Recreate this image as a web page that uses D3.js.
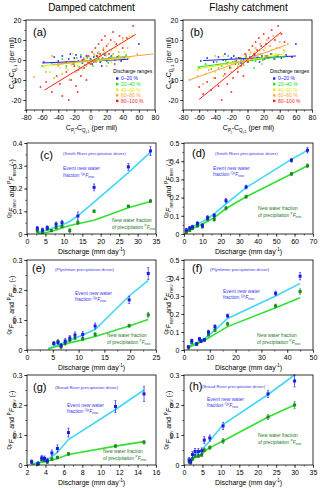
<!DOCTYPE html>
<html>
<head>
<meta charset="utf-8">
<script src="https://d3js.org/d3.v7.min.js"></script>
<style>
body { margin: 0; background: #fff; }
svg text { font-family: "Liberation Sans", Arial, sans-serif; }
</style>
</head>
<body>
<div id="container"></div>
<script>
// ---------- scatter data: [Cp - Cq(j-1), Cq(j) - Cq(j-1)] per discharge range ----------
const rangeNames = ['0\u201320 %', '20\u201340 %', '40\u201360 %', '60\u201380 %', '80\u2013100 %'];
const rangeColors = ['#2020ff', '#22dd22', '#e8e800', '#ffa040', '#ff2020'];

const dampedQ0 = [[-58,-1],[-45,1.5],[-40,-0.5],[-35,2],[-30,-1],[-27,0.5],[-22,-2],[-20,1],[-18,2.5],[-15,-0.5],[-12,1.5],[-10,-1.5],[-8,0.5],[-5,2],[-3,-1],[0,0.5],[2,-2],[4,1.5],[6,-0.5],[8,2],[10,0.5],[12,-1],[15,1],[18,2.5],[20,-0.5],[23,1],[26,2],[30,0],[33,1.5],[38,-0.5],[42,1],[46,0.5],[60,8],[-25,3],[14,-3]];
const dampedQ20 = [[-60,-3],[-48,-1.5],[-40,-2.5],[-35,0.5],[-30,-3],[-25,-1],[-20,-2],[-17,1],[-14,-3.5],[-10,-0.5],[-7,-2.5],[-4,1],[-2,-1.5],[1,0],[3,-3],[5,2],[7,-1],[10,1],[13,-0.5],[16,3],[19,0.5],[22,-1.5],[25,1.5],[28,3],[31,0],[35,2],[40,1],[44,2.5],[-12,2.5],[9,3.5]];
const dampedQ40 = [[-58,-3.5],[-50,-6],[-45,-2],[-38,-4],[-32,-1],[-28,-5],[-24,-2.5],[-20,0],[-16,-3],[-13,-1],[-10,-4.5],[-7,0.5],[-4,-2],[-1,1.5],[2,-0.5],[5,2.5],[8,0],[11,3],[14,1],[17,4],[20,2],[24,5],[28,3],[32,6],[36,2],[42,4],[48,12],[40,10],[26,-1],[-22,3]];
const dampedQ60 = [[-70,-8.5],[-55,-6],[-45,-9],[-40,-3],[-35,-7],[-30,-4],[-26,-10],[-22,-2],[-18,-6],[-15,-1],[-12,-4],[-8,1],[-5,-3],[-2,2],[1,-1],[4,3],[7,0],[10,4],[13,2],[16,6],[19,3],[22,8],[26,5],[30,9],[35,4],[40,11],[46,6],[52,12],[-48,2],[20,-3],[58,3]];
const dampedQ80 = [[-62,-13.5],[-55,-11],[-48,-16],[-42,-8],[-38,-12],[-35,-18],[-30,-6],[-27,-20],[-24,-10],[-20,-3],[-18,-13],[-15,-5],[-12,-8],[-10,0],[-8,-4],[-5,-10],[-3,2],[0,-2],[2,4],[4,-1],[6,6],[8,2],[10,8],[12,3],[14,10],[16,5],[18,12],[20,7],[23,3],[25,10],[28,14],[32,8],[36,12],[40,6],[45,11],[53,17],[-16,-16],[30,-2]];

const flashyQ0 = [[-58,-0.5],[-50,1],[-42,-1],[-36,1.5],[-30,0],[-25,-1.5],[-20,1],[-17,2],[-14,-0.5],[-11,1],[-8,-1.5],[-5,0.5],[-2,2],[1,-0.5],[3,1.5],[6,0],[9,2.5],[12,1],[15,-1],[18,2],[21,0.5],[25,1.5],[29,3],[33,0.5],[37,2],[42,1],[48,2.5],[55,1.5],[60,8],[-28,3]];
const flashyQ20 = [[-60,-4],[-52,-2],[-45,-4.5],[-38,-1],[-32,-3],[-27,-0.5],[-22,-3.5],[-18,-1],[-14,1],[-11,-2],[-8,0],[-5,-2.5],[-2,1.5],[1,-1],[4,0.5],[7,2],[10,-0.5],[13,1.5],[16,3],[19,0],[22,2],[26,1],[30,3],[34,0.5],[38,2.5],[45,1.5],[-24,2],[8,-4]];
const flashyQ40 = [[-62,-5],[-52,-7],[-46,-3],[-40,-6],[-34,-2],[-29,-5],[-24,-1],[-20,-4],[-16,0],[-12,-3],[-9,1],[-6,-1.5],[-3,2],[0,0],[3,3],[6,1],[9,4],[12,2],[15,5],[18,3],[22,6],[26,2],[30,5],[35,3],[40,6],[46,4],[38,12],[-30,2]];
const flashyQ60 = [[-72,-10],[-62,-8],[-55,-12],[-48,-5],[-42,-9],[-36,-4],[-30,-8],[-25,-2],[-20,-6],[-16,-1],[-12,-4],[-8,1],[-5,-2],[-2,3],[1,0],[4,4],[7,2],[10,6],[13,3],[16,8],[20,5],[24,10],[28,7],[32,12],[36,6],[40,9],[45,5],[50,8],[-40,2],[18,-2]];
const flashyQ80 = [[-60,-13.5],[-55,-17],[-50,-11],[-45,-15],[-40,-9],[-36,-13],[-32,-20],[-28,-7],[-25,-12],[-22,-4],[-18,-9],[-15,-2],[-12,-6],[-10,1],[-8,-3],[-5,-8],[-3,3],[0,-1],[2,5],[4,1],[6,7],[8,3],[10,9],[12,5],[14,11],[17,7],[20,13],[23,8],[26,11],[30,15],[34,10],[38,17],[42,13],[46,9],[-20,-16],[24,2]];

// regression lines [x1,y1,x2,y2] per range
const dampedFits = [[-60,-1.5,45,0.3],[-48,-2.5,45,1.8],[-58,-2.8,50,1.2],[-45,-2.2,78,3],[-57,-15,56,12.8]];
const flashyFits = [[-55,-0.3,60,2],[-62,-3.5,48,2],[-62,-4.5,45,3],[-72,-10,48,7.5],[-60,-19.7,42,14]];

// ---------- new water fraction panels ----------
const smithDampedQ = [2.8, 4.2, 5.5, 6.6, 7.9, 9.5, 11.6, 13.8, 18.2, 27.5, 33.5];
const smithDampedEvent = [0.025, 0.018, 0.028, null, 0.043, 0.05, null, 0.079, 0.205, 0.295, 0.365];
const smithDampedEventErr = [0.008, 0.008, 0.008, 0, 0.01, 0.01, 0, 0.018, 0.015, 0.015, 0.02];
const smithDampedPrecip = [0.013, 0.007, 0.022, 0.015, 0.028, 0.033, 0.015, 0.05, 0.1, 0.122, 0.145];
const smithDampedPrecipErr = [0.005, 0.005, 0.005, 0.005, 0.006, 0.006, 0.01, 0.008, 0.006, 0.005, 0.007];
const smithDampedEventFit = [0.006, 0.012, 0.018, 0.024, 0.03, 0.04, 0.055, 0.08, 0.14, 0.27, 0.36];
const smithDampedPrecipFit = [0.003, 0.005, 0.008, 0.012, 0.018, 0.027, 0.037, 0.045, 0.06, 0.115, 0.143];

const smithFlashyQ = [1.3, 3.1, 4.6, 7.3, 10, 12.8, 16.4, 22.8, 33.7, 58.3, 67];
const smithFlashyEvent = [0.022, 0.033, 0.04, 0.058, 0.047, 0.09, 0.102, 0.183, 0.258, 0.405, 0.46];
const smithFlashyEventErr = [0.008, 0.008, 0.008, 0.01, 0.01, 0.012, 0.01, 0.012, 0.01, 0.01, 0.015];
const smithFlashyPrecip = [0.01, 0.02, 0.03, 0.045, 0.04, 0.082, 0.08, 0.142, 0.205, 0.33, 0.375];
const smithFlashyPrecipErr = [0.006, 0.006, 0.006, 0.008, 0.008, 0.01, 0.01, 0.01, 0.008, 0.008, 0.01];
const smithFlashyEventFit = [0.015, 0.028, 0.038, 0.055, 0.068, 0.085, 0.11, 0.165, 0.255, 0.41, 0.46];
const smithFlashyPrecipFit = [0.01, 0.02, 0.03, 0.042, 0.055, 0.07, 0.09, 0.14, 0.205, 0.33, 0.375];

const plynDampedQ = [4.1, 5.2, 6.0, 6.6, 7.4, 8.3, 9.3, 10.8, 13.2, 19.8, 23.5];
const plynDampedEvent = [null, 0.022, 0.025, 0.015, 0.03, 0.04, 0.05, 0.052, 0.08, 0.167, 0.255];
const plynDampedEventErr = [0, 0.006, 0.006, 0.006, 0.008, 0.008, 0.01, 0.01, 0.01, 0.012, 0.02];
const plynDampedPrecip = [null, 0.022, 0.028, 0.01, 0.022, 0.033, 0.04, 0.037, 0.052, 0.081, 0.117];
const plynDampedPrecipErr = [0, 0.005, 0.007, 0.006, 0.006, 0.006, 0.006, 0.006, 0.006, 0.005, 0.008];
const plynDampedEventFit = [0.004, 0.012, 0.017, 0.021, 0.026, 0.032, 0.039, 0.05, 0.068, 0.18, 0.232];
const plynDampedPrecipFit = [0.003, 0.009, 0.013, 0.016, 0.02, 0.024, 0.028, 0.034, 0.045, 0.08, 0.102];

const plynFlashyQ = [1.7, 3, 4.9, 6, 6.6, 7.9, 9.5, 12, 16.9, 35.5, 45];
const plynFlashyEvent = [0.018, 0.052, 0.035, 0.062, 0.05, 0.057, 0.1, 0.13, 0.19, 0.315, 0.41];
const plynFlashyEventErr = [0.006, 0.008, 0.006, 0.008, 0.006, 0.006, 0.01, 0.01, 0.01, 0.012, 0.02];
const plynFlashyPrecip = [0.012, 0.04, 0.03, 0.06, 0.048, 0.055, 0.085, 0.11, 0.145, 0.245, 0.325];
const plynFlashyPrecipErr = [0.005, 0.006, 0.005, 0.006, 0.005, 0.005, 0.008, 0.008, 0.01, 0.01, 0.015];
const plynFlashyEventFit = [0.015, 0.028, 0.04, 0.048, 0.053, 0.063, 0.08, 0.11, 0.175, 0.3, 0.37];
const plynFlashyPrecipFit = [0.012, 0.022, 0.033, 0.04, 0.045, 0.054, 0.067, 0.088, 0.13, 0.235, 0.29];

const broadDampedQ = [2.5, 3.2, 3.6, 3.9, 4.2, 4.7, 5.3, 6.5, 11.6, 14.7];
const broadDampedEvent = [0.011, 0.005, 0.024, 0.022, 0.015, 0.04, 0.055, 0.108, 0.195, 0.237];
const broadDampedEventErr = [0.006, 0.006, 0.008, 0.008, 0.008, 0.01, 0.012, 0.015, 0.02, 0.025];
const broadDampedPrecip = [0.01, 0.004, 0.018, 0.015, 0.01, 0.02, 0.025, 0.037, 0.063, 0.076];
const broadDampedPrecipErr = [0.005, 0.004, 0.005, 0.005, 0.005, 0.005, 0.005, 0.005, 0.005, 0.006];
const broadDampedEventFit = [0.003, 0.008, 0.012, 0.015, 0.019, 0.028, 0.042, 0.085, 0.185, 0.25];
const broadDampedPrecipFit = [0.003, 0.006, 0.009, 0.011, 0.013, 0.017, 0.022, 0.035, 0.063, 0.078];

const broadFlashyQ = [1.4, 1.8, 2.3, 3, 3.9, 4.8, 5.5, 7, 10.6, 22.8, 30];
const broadFlashyEvent = [0.017, 0.012, 0.035, 0.045, 0.045, 0.047, 0.083, 0.09, 0.13, 0.237, 0.28];
const broadFlashyEventErr = [0.008, 0.008, 0.01, 0.01, 0.01, 0.01, 0.012, 0.01, 0.012, 0.012, 0.02];
const broadFlashyPrecip = [0.01, 0.008, 0.02, 0.03, 0.03, 0.033, 0.05, 0.058, 0.08, 0.16, 0.2];
const broadFlashyPrecipErr = [0.005, 0.005, 0.005, 0.005, 0.005, 0.005, 0.006, 0.006, 0.008, 0.008, 0.012];
const broadFlashyEventFit = [0.012, 0.018, 0.025, 0.035, 0.042, 0.05, 0.06, 0.08, 0.135, 0.235, 0.3];
const broadFlashyPrecipFit = [0.008, 0.012, 0.018, 0.025, 0.03, 0.035, 0.045, 0.058, 0.08, 0.16, 0.2];

// ---------- layout ----------
const W = 320, H = 491;
const cols = [[27, 156], [184, 313]];
const rows = [[20, 110], [143, 234], [260, 350], [375, 465]];

const evColor = '#1a1ae6', evLine = '#40d8f8';
const prColor = '#1a8a1a', prLine = '#33e033';
const evText = '#3a3af0', prText = '#1a7a1a';

const svg = d3.select('#container').append('svg')
  .attr('width', W).attr('height', H);

// text with super/subscripts
function rich(g, x, y, parts, fs, opts) {
  opts = opts || {};
  const t = g.append('text').attr('x', x).attr('y', y)
    .attr('font-size', fs).attr('fill', opts.fill || '#000');
  if (opts.anchor) t.attr('text-anchor', opts.anchor);
  if (opts.rotate) t.attr('transform', `rotate(-90,${x},${y})`);
  let shift = 0;
  parts.forEach(p => {
    const s = p[0], m = p[1] || '';
    let target = 0, size = null;
    if (m.includes('sup')) { target = -fs * 0.38; size = fs * 0.65; }
    if (m.includes('sub')) { target = fs * 0.25; size = fs * 0.65; }
    if (m.includes('ss')) { target = fs * 0.45; size = fs * 0.5; }
    const ts = t.append('tspan').attr('dy', target - shift).text(s);
    if (size) ts.attr('font-size', size);
    if (m.includes('i')) ts.attr('font-style', 'italic');
    shift = target;
  });
  return t;
}

function drawAxes(g, x, y, xMajor, xMinor, yMajor, yMinor, fx, fy) {
  const [x0, x1] = x.range(), [yb, yt] = y.range();
  const style = a => {
    a.select('.domain').remove();
    a.selectAll('line').attr('stroke', '#000').attr('stroke-width', 0.6);
    a.selectAll('text').attr('font-size', 7).attr('font-family', '"Liberation Sans", Arial, sans-serif');
  };
  g.append('g').attr('transform', `translate(0,${yb})`)
    .call(d3.axisBottom(x).tickValues(xMinor).tickSize(1.6).tickFormat('')).call(style);
  g.append('g').attr('transform', `translate(0,${yb})`)
    .call(d3.axisBottom(x).tickValues(xMajor).tickSize(3).tickPadding(1.6).tickFormat(fx)).call(style);
  g.append('g').attr('transform', `translate(${x0},0)`)
    .call(d3.axisLeft(y).tickValues(yMinor).tickSize(1.6).tickFormat('')).call(style);
  g.append('g').attr('transform', `translate(${x0},0)`)
    .call(d3.axisLeft(y).tickValues(yMajor).tickSize(3).tickPadding(1.6).tickFormat(fy)).call(style);
  g.append('rect').attr('x', x0).attr('y', yt).attr('width', x1 - x0).attr('height', yb - yt)
    .attr('fill', 'none').attr('stroke', '#000').attr('stroke-width', 0.8);
}

// ---------- scatter panels ----------
const scatterPanels = [
  { col: 0, label: '(a)', title: 'Damped catchment', sets: [dampedQ0, dampedQ20, dampedQ40, dampedQ60, dampedQ80], fits: dampedFits },
  { col: 1, label: '(b)', title: 'Flashy catchment', sets: [flashyQ0, flashyQ20, flashyQ40, flashyQ60, flashyQ80], fits: flashyFits }
];

scatterPanels.forEach(p => {
  const g = svg.append('g');
  const [c0, c1] = cols[p.col];
  const x = d3.scaleLinear().domain([-80, 80]).range([c0 - 1, c1 - 1]);
  const y = d3.scaleLinear().domain([-25, 20]).range([rows[0][1], rows[0][0]]);

  g.append('text').attr('x', (c0 + c1) / 2).attr('y', 11).attr('text-anchor', 'middle')
    .attr('font-size', 10).text(p.title);

  p.sets.forEach((pts, k) => {
    g.append('g').selectAll('rect').data(pts).enter().append('rect')
      .attr('x', d => x(d[0]) - 0.8).attr('y', d => y(d[1]) - 0.8)
      .attr('width', 1.6).attr('height', 1.6).attr('fill', rangeColors[k]);
  });
  p.fits.forEach((f, k) => {
    g.append('line').attr('x1', x(f[0])).attr('y1', y(f[1])).attr('x2', x(f[2])).attr('y2', y(f[3]))
      .attr('stroke', rangeColors[k]).attr('stroke-width', 1);
  });

  drawAxes(g, x, y, d3.range(-80, 81, 20), d3.range(-80, 81, 10),
    d3.range(-20, 21, 10), d3.range(-25, 21, 5), d => String(d), d => String(d));

  g.append('text').attr('x', c0 + 6).attr('y', 36).attr('font-size', 11).text(p.label);

  // legend
  const lx = p.col === 0 ? 113 : 270;
  g.append('text').attr('x', lx).attr('y', 73).attr('font-size', 5).text('Discharge ranges');
  rangeNames.forEach((n, k) => {
    const yy = 78.5 + k * 5.6;
    g.append('rect').attr('x', lx + 3).attr('y', yy - 1.2).attr('width', 2.4).attr('height', 2.4)
      .attr('fill', rangeColors[k]);
    g.append('text').attr('x', lx + 8).attr('y', yy + 1.8).attr('font-size', 5)
      .attr('fill', rangeColors[k]).text(n);
  });

  rich(g, (c0 + c1) / 2, 130, [['C'], ['P', 'sub'], ['j', 'ss'], ['-C'], ['Q', 'sub'], ['j-1', 'ss'], [' (per mil)']], 7, { anchor: 'middle' });
  rich(g, c0 - 13, 63, [['C'], ['Q', 'sub'], ['j', 'ss'], ['-C'], ['Q', 'sub'], ['j-1', 'ss'], [' (per mil)']], 7, { anchor: 'middle', rotate: true });
});

// ---------- new water fraction panels ----------
const nwPanels = [
  { col: 0, row: 1, label: '(c)', driver: '(Smith River precipitation driver)', xDom: [0, 35], xStep: 5, yDom: [0, 0.4],
    q: smithDampedQ, ev: smithDampedEvent, evErr: smithDampedEventErr, pr: smithDampedPrecip, prErr: smithDampedPrecipErr,
    evFit: smithDampedEventFit, prFit: smithDampedPrecipFit,
    lab: [40, 159], drv: [63, 155], evt: [63, 170], nw: [112, 221.5] },
  { col: 1, row: 1, label: '(d)', driver: '(Smith River precipitation driver)', xDom: [0, 70], xStep: 10, yDom: [0, 0.5],
    q: smithFlashyQ, ev: smithFlashyEvent, evErr: smithFlashyEventErr, pr: smithFlashyPrecip, prErr: smithFlashyPrecipErr,
    evFit: smithFlashyEventFit, prFit: smithFlashyPrecipFit,
    lab: [192, 157], drv: [215, 155], evt: [213, 169.5], nw: [258, 209.5] },
  { col: 0, row: 2, label: '(e)', driver: '(Plynlimon precipitation driver)', xDom: [0, 25], xStep: 5, yDom: [0, 0.3],
    q: plynDampedQ, ev: plynDampedEvent, evErr: plynDampedEventErr, pr: plynDampedPrecip, prErr: plynDampedPrecipErr,
    evFit: plynDampedEventFit, prFit: plynDampedPrecipFit,
    lab: [32, 272], drv: [55, 271], evt: [75, 294.5], nw: [107, 336.5] },
  { col: 1, row: 2, label: '(f)', driver: '(Plynlimon precipitation driver)', xDom: [0, 50], xStep: 10, yDom: [0, 0.5],
    q: plynFlashyQ, ev: plynFlashyEvent, evErr: plynFlashyEventErr, pr: plynFlashyPrecip, prErr: plynFlashyPrecipErr,
    evFit: plynFlashyEventFit, prFit: plynFlashyPrecipFit,
    lab: [192, 272], drv: [210, 271], evt: [223, 292.5], nw: [257, 336.5] },
  { col: 0, row: 3, label: '(g)', driver: '(Broad River precipitation driver)', xDom: [2, 16], xStep: 2, yDom: [0, 0.3],
    q: broadDampedQ, ev: broadDampedEvent, evErr: broadDampedEventErr, pr: broadDampedPrecip, prErr: broadDampedPrecipErr,
    evFit: broadDampedEventFit, prFit: broadDampedPrecipFit,
    lab: [33, 391], drv: [55, 389], evt: [67, 406.5], nw: [103, 452.5] },
  { col: 1, row: 3, label: '(h)', driver: '(Broad River precipitation driver)', xDom: [0, 35], xStep: 5, yDom: [0, 0.3],
    q: broadFlashyQ, ev: broadFlashyEvent, evErr: broadFlashyEventErr, pr: broadFlashyPrecip, prErr: broadFlashyPrecipErr,
    evFit: broadFlashyEventFit, prFit: broadFlashyPrecipFit,
    lab: [189, 390], drv: [202, 388], evt: [207, 400.5], nw: [258, 436.5] }
];

nwPanels.forEach(p => {
  const g = svg.append('g');
  const [c0, c1] = cols[p.col];
  const [r0, r1] = rows[p.row];
  const x = d3.scaleLinear().domain(p.xDom).range([c0, c1]);
  const y = d3.scaleLinear().domain(p.yDom).range([r1, r0]);

  const xMajor = d3.range(p.xDom[0], p.xDom[1] + 1e-9, p.xStep);
  const xMinor = d3.range(p.xDom[0], p.xDom[1] + 1e-9, p.xStep / 2);
  const yMajor = d3.range(0, p.yDom[1] + 1e-9, 0.1);
  const yMinor = d3.range(0, p.yDom[1] + 1e-9, 0.05);

  const line = d3.line().x((d, i) => x(p.q[i])).y(d => y(d));
  g.append('path').attr('d', line(p.evFit)).attr('fill', 'none')
    .attr('stroke', evLine).attr('stroke-width', 1.6);
  g.append('path').attr('d', line(p.prFit)).attr('fill', 'none')
    .attr('stroke', prLine).attr('stroke-width', 1.6);

  const drawPts = (vals, errs, color) => {
    const pts = vals.map((v, i) => ({ q: p.q[i], v: v, e: errs[i] })).filter(d => d.v !== null);
    const gg = g.append('g');
    pts.forEach(d => {
      const xx = x(d.q);
      gg.append('line').attr('x1', xx).attr('x2', xx).attr('y1', y(d.v - d.e)).attr('y2', y(d.v + d.e))
        .attr('stroke', color).attr('stroke-width', 0.7);
      [d.v - d.e, d.v + d.e].forEach(e => gg.append('line').attr('x1', xx - 1).attr('x2', xx + 1)
        .attr('y1', y(e)).attr('y2', y(e)).attr('stroke', color).attr('stroke-width', 0.6));
      gg.append('rect').attr('x', xx - 1.5).attr('y', y(d.v) - 1.5).attr('width', 3).attr('height', 3)
        .attr('fill', color);
    });
  };
  drawPts(p.pr, p.prErr, prColor);
  drawPts(p.ev, p.evErr, evColor);

  drawAxes(g, x, y, xMajor, xMinor, yMajor, yMinor,
    d => String(Math.round(d * 100) / 100), d => d === 0 ? '0' : d3.format('.1f')(d));

  g.append('text').attr('x', p.lab[0]).attr('y', p.lab[1]).attr('font-size', 11).text(p.label);
  g.append('text').attr('x', p.drv[0]).attr('y', p.drv[1]).attr('font-size', 4.4)
    .attr('fill', evText).text(p.driver);

  g.append('text').attr('x', p.evt[0]).attr('y', p.evt[1]).attr('font-size', 5)
    .attr('fill', evText).text('Event new water');
  rich(g, p.evt[0], p.evt[1] + 6.5, [['fraction '], ['Qp', 'sup'], ['F', 'i'], ['new', 'sub']], 5, { fill: evText });

  g.append('text').attr('x', p.nw[0]).attr('y', p.nw[1]).attr('font-size', 4.8)
    .attr('fill', prText).text('New water fraction');
  rich(g, p.nw[0], p.nw[1] + 7, [['of precipitation '], ['P', 'sup'], ['F', 'i'], ['new', 'sub']], 4.8, { fill: prText });

  rich(g, (c0 + c1) / 2, r1 + 20, [['Discharge (mm day'], ['-1', 'sup'], [')']], 7, { anchor: 'middle' });
  rich(g, c0 - 13, (r0 + r1) / 2, [['Qp', 'sup'], ['F', 'i'], ['new', 'sub'], [' and '], ['P', 'sup'], ['F', 'i'], ['new', 'sub'], [' (-)']], 7, { anchor: 'middle', rotate: true });
});
</script>
</body>
</html>
